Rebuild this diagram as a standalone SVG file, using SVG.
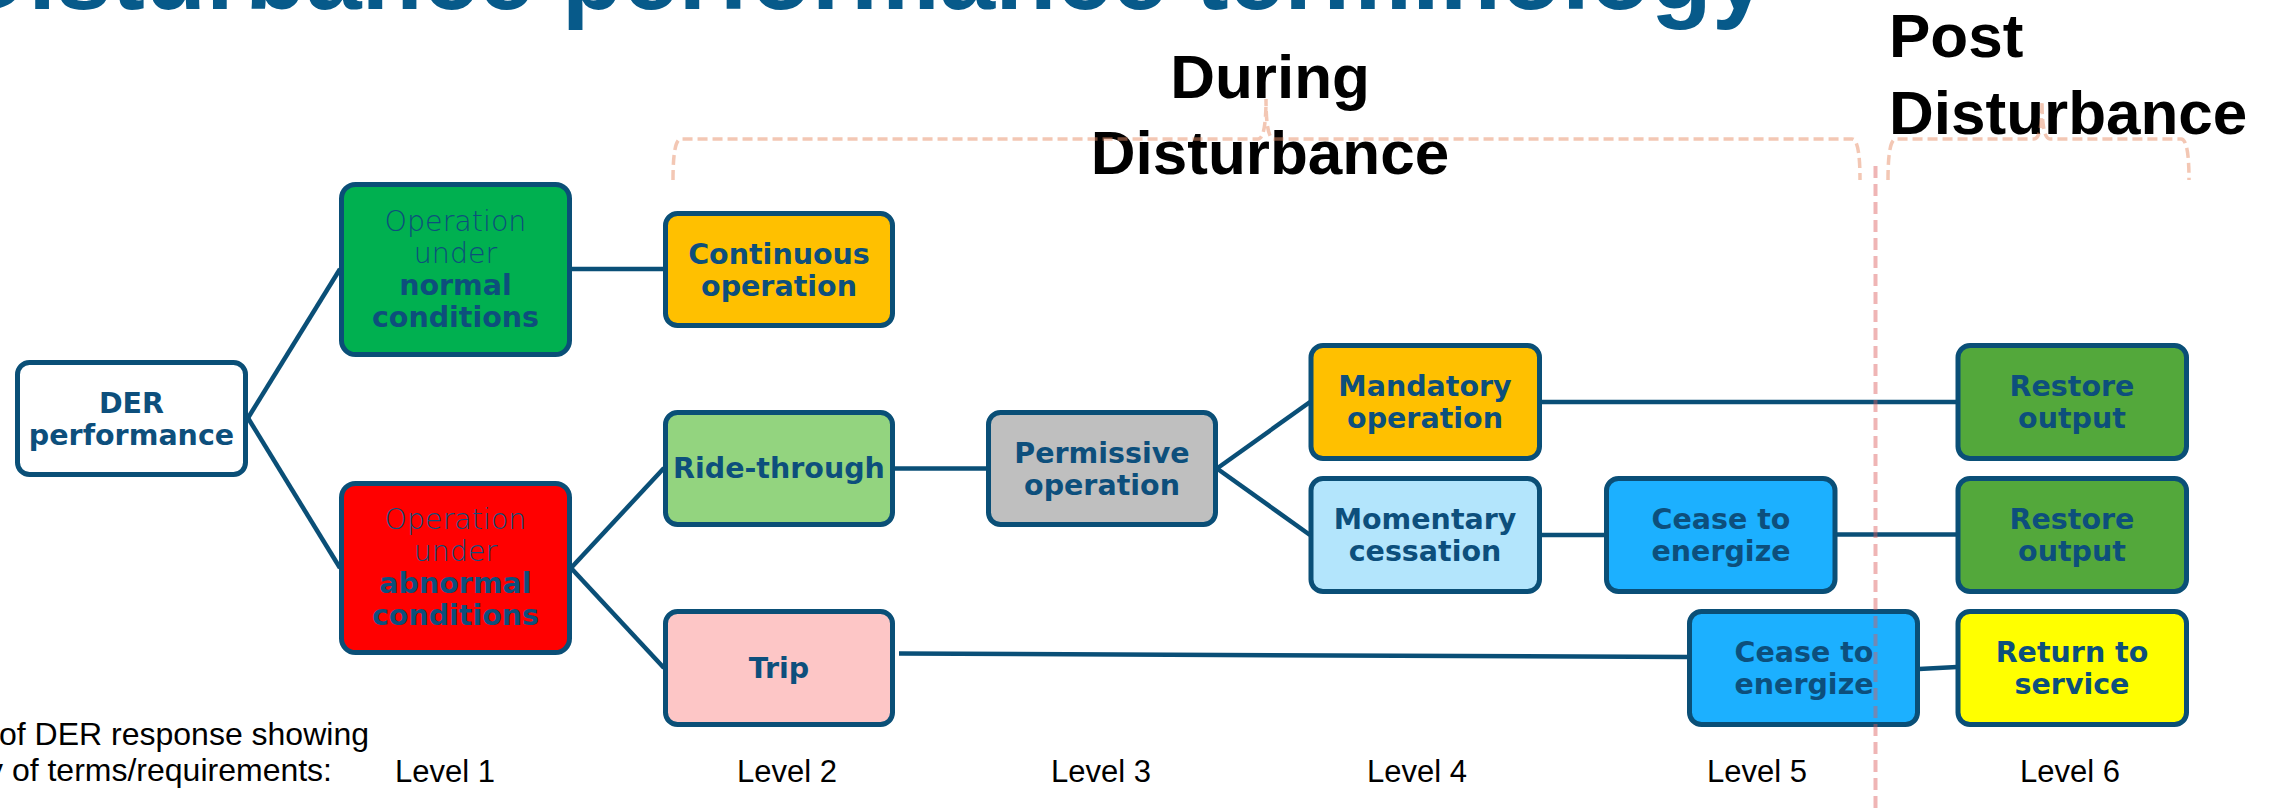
<svg xmlns="http://www.w3.org/2000/svg" width="2280" height="812" viewBox="0 0 2280 812">
<style>
.node rect{stroke:#0a4f77;stroke-width:5}
.t{font-family:"DejaVu Sans",Verdana,sans-serif;font-size:28.5px;fill:#0d4f7c;text-anchor:middle;font-weight:bold}
.tl{font-weight:200}
.conn line{stroke:#0a4f77;stroke-width:4.5;stroke-linecap:butt}
.lvl{font-family:"Liberation Sans",Arial,sans-serif;font-size:31px;fill:#000;text-anchor:middle}
.note{font-family:"Liberation Sans",Arial,sans-serif;font-size:32px;fill:#000}
.hdr{font-family:"Liberation Sans",Arial,sans-serif;font-size:62px;font-weight:bold;fill:#000}
.brace{fill:none;stroke:#e8906a;stroke-opacity:0.5;stroke-width:3.5;stroke-dasharray:10 5}
</style>
<rect width="2280" height="812" fill="#fff"/>
<text x="-44" y="9" font-family="Liberation Sans, Arial, sans-serif" font-size="100" font-weight="bold" fill="#075a8a">Disturbance performance terminology</text>

<g id="connectors" class="conn">
<line x1="248" y1="418" x2="340" y2="269"/>
<line x1="248" y1="418" x2="340" y2="568"/>
<line x1="571" y1="269" x2="664" y2="269"/>
<line x1="571" y1="568" x2="664" y2="468"/>
<line x1="571" y1="568" x2="664" y2="668"/>
<line x1="894" y1="468.5" x2="987" y2="468.5"/>
<line x1="899" y1="653.5" x2="1688" y2="657"/>
<line x1="1217" y1="468.5" x2="1310" y2="402"/>
<line x1="1217" y1="468.5" x2="1310" y2="535"/>
<line x1="1541" y1="402" x2="1957" y2="402"/>
<line x1="1541" y1="535" x2="1605" y2="535"/>
<line x1="1836" y1="534.5" x2="1957" y2="534.5"/>
<line x1="1919" y1="669" x2="1957" y2="667"/>
</g>

<g id="n-der" class="node"><rect x="17.5" y="362.5" width="228" height="112" rx="12" fill="#fff"/>
<text class="t" x="131.5" y="412.5">DER</text><text class="t" x="131.5" y="444.5">performance</text></g>

<g id="n-normal" class="node"><rect x="341.5" y="184.5" width="228" height="170" rx="14" fill="#00b050"/>
<text class="t tl" x="455.5" y="231">Operation</text><text class="t tl" x="455.5" y="263">under</text>
<text class="t" x="455.5" y="295">normal</text><text class="t" x="455.5" y="327">conditions</text></g>

<g id="n-abnormal" class="node"><rect x="341.5" y="483.5" width="228" height="169" rx="14" fill="#ff0000"/>
<text class="t tl" x="455.5" y="529">Operation</text><text class="t tl" x="455.5" y="561">under</text>
<text class="t" x="455.5" y="593">abnormal</text><text class="t" x="455.5" y="625">conditions</text></g>

<g id="n-continuous" class="node"><rect x="665.5" y="213.5" width="227" height="112" rx="12" fill="#ffc000"/>
<text class="t" x="779" y="263.5">Continuous</text><text class="t" x="779" y="295.5">operation</text></g>

<g id="n-ride" class="node"><rect x="665.5" y="412.5" width="227" height="112" rx="12" fill="#93d47f"/>
<text class="t" x="779" y="478">Ride-through</text></g>

<g id="n-trip" class="node"><rect x="665.5" y="611.5" width="227" height="113" rx="12" fill="#fdc6c6"/>
<text class="t" x="779" y="677.5">Trip</text></g>

<g id="n-permissive" class="node"><rect x="988.5" y="412.5" width="227" height="112" rx="12" fill="#bfbfbf"/>
<text class="t" x="1102" y="462.5">Permissive</text><text class="t" x="1102" y="494.5">operation</text></g>

<g id="n-mandatory" class="node"><rect x="1311" y="345.5" width="228.5" height="113" rx="12" fill="#ffc000"/>
<text class="t" x="1425" y="396">Mandatory</text><text class="t" x="1425" y="428">operation</text></g>

<g id="n-momentary" class="node"><rect x="1311" y="478.5" width="228.5" height="113" rx="12" fill="#b3e5fc"/>
<text class="t" x="1425" y="529">Momentary</text><text class="t" x="1425" y="561">cessation</text></g>

<g id="n-cease1" class="node"><rect x="1606.5" y="478.5" width="228.5" height="113" rx="12" fill="#1cb0ff"/>
<text class="t" x="1721" y="529">Cease to</text><text class="t" x="1721" y="561">energize</text></g>

<g id="n-cease2" class="node"><rect x="1689.5" y="611.5" width="228" height="113" rx="12" fill="#1cb0ff"/>
<text class="t" x="1804" y="662">Cease to</text><text class="t" x="1804" y="694">energize</text></g>

<g id="n-restore1" class="node"><rect x="1958" y="345.5" width="228.5" height="113" rx="12" fill="#53a83b"/>
<text class="t" x="2072" y="396">Restore</text><text class="t" x="2072" y="428">output</text></g>

<g id="n-restore2" class="node"><rect x="1958" y="478.5" width="228.5" height="113" rx="12" fill="#53a83b"/>
<text class="t" x="2072" y="529">Restore</text><text class="t" x="2072" y="561">output</text></g>

<g id="n-return" class="node"><rect x="1958" y="611.5" width="228.5" height="113" rx="12" fill="#ffff00"/>
<text class="t" x="2072" y="662">Return to</text><text class="t" x="2072" y="694">service</text></g>

<g id="headers">
<text class="hdr" x="1270" y="98" text-anchor="middle">During</text>
<text class="hdr" x="1270" y="174" text-anchor="middle">Disturbance</text>
<text class="hdr" x="1889" y="57">Post</text>
<text class="hdr" x="1889" y="134">Disturbance</text>
</g>

<g id="braces">
<path class="brace" d="M673 180 Q673 139 681 139 L1258 139 Q1266 139 1266 99 Q1266 139 1274 139 L1852 139 Q1860 139 1860 180"/>
<path class="brace" d="M1888 180 Q1888 139 1896 139 L2034 139 Q2042 139 2042 101 Q2042 139 2050 139 L2181 139 Q2189 139 2189 180"/>
</g>

<line id="divider" x1="1875.5" y1="166" x2="1875.5" y2="812" stroke="#dc5a5a" stroke-opacity="0.45" stroke-width="4" stroke-dasharray="12 6"/>

<g id="levels">
<text class="note" x="-1" y="745">of DER response showing</text>
<text class="note" x="-13" y="781">y of terms/requirements:</text>
<text class="lvl" x="445" y="782">Level 1</text>
<text class="lvl" x="787" y="782">Level 2</text>
<text class="lvl" x="1101" y="782">Level 3</text>
<text class="lvl" x="1417" y="782">Level 4</text>
<text class="lvl" x="1757" y="782">Level 5</text>
<text class="lvl" x="2070" y="782">Level 6</text>
</g>
</svg>
